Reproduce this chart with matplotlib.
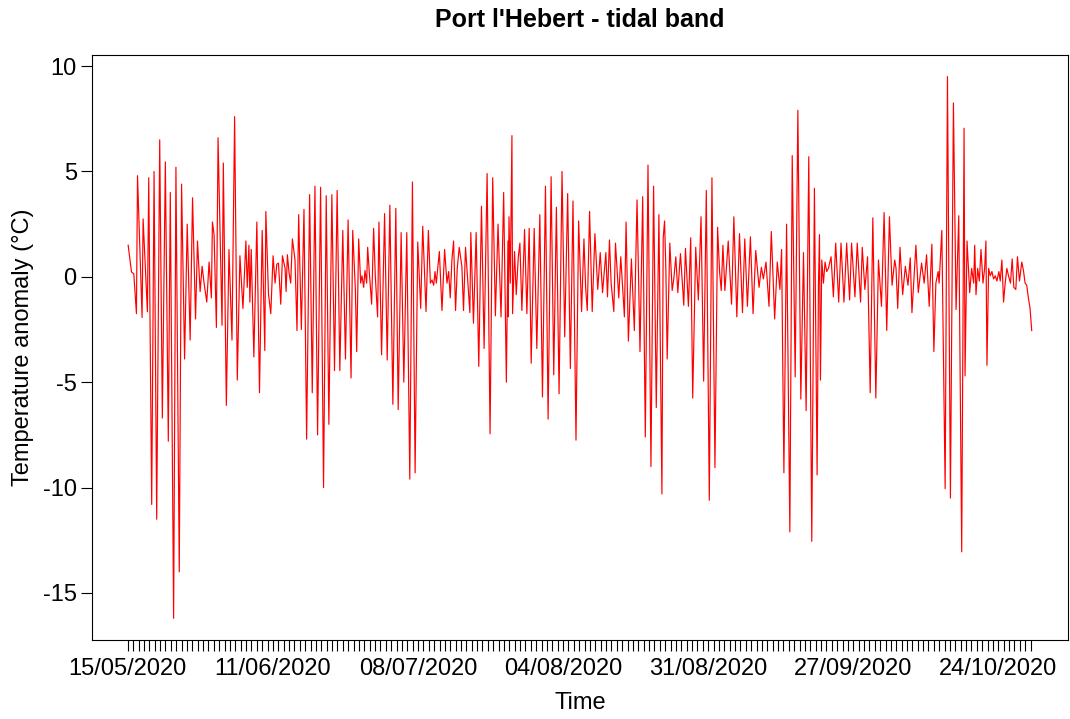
import datetime as dt
import numpy as np
import matplotlib
matplotlib.use("Agg")
import matplotlib.pyplot as plt

plt.rcParams['font.family'] = ['Liberation Sans', 'DejaVu Sans']
plt.rcParams['axes.unicode_minus'] = False

# (days since 15/05/2020, temperature anomaly in degC)
may = [(0.06, 1.5), (0.68, 0.23), (1.11, 0.14), (1.6, -1.75), (1.8, 4.8), (2.65, -1.93),
       (2.84, 2.75), (3.64, -1.66), (3.89, 4.7), (4.44, -10.8), (4.88, 5.0), (5.37, -11.5),
       (5.93, 6.5), (6.42, -6.7), (6.98, 5.45), (7.53, -7.8), (7.9, 4.0), (8.52, -16.2),
       (8.95, 5.2), (9.57, -14.0), (10.0, 4.4), (10.56, -3.9), (11.05, 2.5), (11.6, -3.0),
       (12.04, 3.75), (12.6, -2.0), (12.96, 1.7), (13.45, -0.7), (13.82, 0.5), (14.19, -0.3),
       (14.69, -1.2), (15.12, 0.7), (15.55, -1.0), (15.74, 2.6), (16.05, 2.0), (16.48, -2.4),
       (16.79, 6.6)]

june = [(17.53, -2.3), (17.77, 5.4), (18.33, -6.1), (18.82, 1.3), (19.38, -3.0), (19.87, 7.6),
        (20.37, -4.9), (20.86, 1.0), (21.42, -1.5), (21.97, 1.7), (22.22, -0.5), (22.53, 1.5),
        (22.71, -1.2), (22.96, 1.3), (23.45, -3.8), (24.01, 2.6), (24.5, -5.5), (25.0, 2.2),
        (25.49, -3.5), (25.68, 3.1), (26.17, -0.8), (26.6, -1.75), (27.03, 1.0), (27.4, -0.3),
        (27.72, 0.6), (28.03, 0.65), (28.46, -1.3), (28.77, 1.0), (29.26, 0.4), (29.45, -0.7),
        (29.69, 1.05), (30.0, 0.2), (30.31, -0.3), (30.62, 1.8), (31.11, 0.8), (31.48, -2.55),
        (31.79, 2.95), (32.29, -2.5), (32.78, 3.2), (33.27, -7.7), (33.83, 3.9), (34.32, -5.5),
        (34.82, 4.3), (35.31, -7.5), (35.87, 4.25), (36.42, -10.0), (36.92, 3.85), (37.41, -7.0),
        (37.97, 3.9), (38.46, -4.45), (38.95, 4.1), (39.45, -4.45), (40.0, 2.2), (40.5, -3.9),
        (40.99, 2.7), (41.54, -4.8), (41.85, 2.2), (42.34, -0.6), (42.59, -3.55), (42.96, 1.8),
        (43.33, -0.3), (43.58, 0.05), (43.89, -0.5), (44.13, 0.3), (44.44, -0.3), (44.63, 1.4),
        (44.94, 0.2), (45.37, -1.3), (45.74, 2.3), (46.05, 0.05), (46.48, -1.9), (46.73, 2.6)]

july = [(47.22, -3.7), (47.78, 3.0), (48.27, -3.95), (48.76, 3.4), (49.32, -6.05), (49.87, 3.25),
        (50.31, -6.3), (50.86, 2.1), (51.36, -5.0), (51.91, 2.1), (52.47, -9.6), (52.96, 4.5),
        (53.46, -9.3), (53.95, 1.65), (54.5, -1.5), (54.88, 2.4), (55.49, -1.65), (55.93, 2.2),
        (56.3, -0.3), (56.61, -0.15), (56.92, -0.4), (57.16, 0.25), (57.41, -0.3), (57.97, 1.2),
        (58.46, -1.6), (58.95, 1.3), (59.39, -0.3), (59.7, 0.25), (60.0, -1.0), (60.31, 0.8),
        (60.62, 1.7), (60.99, -1.6), (61.3, 0.4), (61.67, 1.4), (62.16, 0.5), (62.47, -1.6),
        (62.84, 1.4), (63.28, -0.3), (63.65, -1.7), (63.83, 2.1), (64.32, -2.2), (64.82, 2.1),
        (65.31, -4.25), (65.81, 3.35), (66.3, -3.4), (66.86, 4.9), (67.41, -7.45), (67.9, 4.7),
        (68.4, -1.85), (68.89, 2.5), (69.45, -1.9), (69.94, 4.0), (70.44, -5.0), (70.74, 1.7),
        (70.8, -1.9), (70.93, 2.85), (71.17, -0.3), (71.48, 6.7), (71.6, -1.75), (71.97, 1.2),
        (72.28, -0.85), (72.65, 0.9), (72.96, 1.6), (73.33, -1.6), (73.83, 2.25), (74.26, -1.75),
        (74.69, 2.3), (75.06, -4.1), (75.62, 2.3), (76.11, -3.4), (76.67, 2.95), (77.16, -5.7),
        (77.72, 4.3)]

august = [(78.21, -6.75), (78.77, 4.75), (79.26, -4.65), (79.75, 3.3), (80.25, -5.55), (80.8, 5.0),
          (81.3, -2.85), (81.85, 3.95), (82.35, -4.35), (82.84, 3.6), (83.4, -7.75), (83.89, 2.65),
          (84.44, -1.65), (84.88, 1.8), (85.19, -0.5), (85.5, -1.6), (85.93, 3.1), (86.42, -1.65),
          (86.92, 2.05), (87.45, -0.6), (87.91, 1.15), (88.34, -0.75), (88.96, 1.15), (89.26, -0.95),
          (89.63, 1.75), (89.94, -0.3), (90.44, -1.65), (90.75, 1.6), (91.36, -1.0), (91.73, 0.95),
          (92.41, -1.9), (92.72, 2.6), (93.15, -3.05), (93.71, 0.85), (94.26, -2.55), (94.76, 3.65),
          (95.31, -3.55), (95.81, 3.8), (96.3, -7.6), (96.8, 5.3), (97.35, -9.0), (97.84, 4.3),
          (98.34, -6.2), (98.83, 2.95), (99.39, -10.3), (99.63, 1.85), (99.88, 2.65), (100.12, 0.4),
          (100.37, -3.9), (100.86, 1.6), (101.3, -0.65), (101.6, -0.1), (101.98, 0.95), (102.35, -0.75),
          (102.84, 1.1), (103.46, -1.35), (103.77, 1.35), (104.32, -1.4), (104.75, 1.85), (105.12, -5.75),
          (105.68, 1.4), (106.17, -1.1), (106.67, 2.85), (107.16, -4.95), (107.65, 4.1), (108.21, -10.6),
          (108.7, 4.7)]

september = [(109.26, -9.05), (109.75, 2.35), (110.12, 0.25), (110.43, -0.65), (110.74, 1.5),
             (111.11, -0.65), (111.73, 1.7), (112.35, -1.3), (112.78, 2.85), (113.33, -1.9),
             (113.83, 2.05), (114.07, 0.4), (114.38, -1.7), (114.81, 1.8), (115.3, -1.4),
             (115.86, 1.9), (116.35, -1.75), (116.85, 1.25), (117.47, -0.5), (117.9, 0.45),
             (118.27, -0.1), (118.76, 0.7), (119.32, -1.4), (119.75, 2.15), (120.37, -2.0),
             (120.86, 0.7), (121.35, -0.6), (121.66, 1.3), (122.09, -9.3), (122.59, 2.5),
             (123.2, -12.1), (123.64, 5.75), (124.19, -4.75), (124.69, 7.9), (125.24, -5.8),
             (125.74, 1.15), (126.23, -6.35), (126.72, 5.7), (127.28, -12.55), (127.77, 4.2),
             (128.27, -9.4), (128.52, -0.4), (128.71, 2.0), (128.89, -4.9), (129.14, 0.8),
             (129.45, -0.3), (129.75, 0.7), (130.06, 0.25), (130.37, 0.4), (130.87, 0.95),
             (131.3, -0.95), (131.73, 1.6), (132.29, -1.2), (132.72, 1.6), (133.27, -1.2),
             (133.77, 1.6), (134.32, -1.1), (134.69, 1.6), (135.31, -0.95), (135.74, 1.6),
             (136.36, -1.2), (136.67, 1.4), (137.16, -0.6), (137.66, 0.95), (138.15, -5.5),
             (138.64, 2.8)]

october = [(139.2, -5.75), (139.69, 0.8), (140.25, -1.4), (140.74, 3.05), (141.23, -2.55),
           (141.73, 2.85), (142.22, -0.4), (142.72, 0.8), (142.96, 0.4), (143.27, -1.5),
           (143.7, 1.4), (144.19, -0.85), (144.69, 0.5), (145.18, -0.4), (145.61, 0.9),
           (145.92, -1.7), (146.66, 1.5), (147.1, -0.75), (147.71, 0.65), (148.2, -0.3),
           (148.64, 1.05), (149.13, -1.4), (149.63, 1.55), (150.0, -3.55), (150.37, -0.3),
           (150.8, 0.25), (150.98, -0.3), (151.48, 2.2), (152.1, -10.05), (152.53, 9.5),
           (153.08, -10.5), (153.64, 8.25), (154.13, -1.55), (154.63, 2.9), (155.18, -13.05),
           (155.62, 7.05), (155.8, -4.7), (156.17, 1.7), (156.67, -0.75), (157.03, 0.4),
           (157.41, -0.3), (157.6, 1.5), (157.84, -0.85), (158.15, 0.4), (158.46, -0.2),
           (158.77, 1.3), (159.14, -0.3), (159.45, 0.4), (159.69, 1.7), (159.88, -4.2),
           (160.19, 0.4), (160.5, 0.05), (160.8, 0.25), (161.11, -0.1), (161.42, 0.05),
           (161.73, -0.2), (162.1, 0.25), (162.35, -0.2), (162.66, 0.8), (162.97, -1.2),
           (163.27, -0.3), (163.58, 0.4), (163.89, 0.05), (164.26, -0.3), (164.57, 0.85),
           (164.88, -0.5), (165.25, -0.6), (165.56, 0.95), (165.93, -0.2), (166.36, 0.7),
           (166.67, 0.3), (166.98, -0.3), (167.28, -0.4), (167.59, -1.0), (167.9, -1.5),
           (168.21, -2.55)]

start_date = dt.date(2020, 5, 15)
n_tick_days = 169        # one tick per day
label_every = 27         # R only kept every 27th label

series = np.array(may + june + july + august + september + october)
t, anom = series[:, 0], series[:, 1]

fig = plt.figure(figsize=(10.7, 7.19), dpi=100)
ax = fig.add_axes([0.086, 0.11, 0.912, 0.8136])

ax.plot(t, anom, color='red', lw=0.85)
ax.margins(x=0.04, y=0.04)

ticks = np.arange(n_tick_days)
ax.set_xticks(ticks)
labels = [(start_date + dt.timedelta(days=int(d))).strftime('%d/%m/%Y') if d % label_every == 0 else ''
          for d in ticks]
ax.set_xticklabels(labels)
ax.set_yticks([-15, -10, -5, 0, 5, 10])

ax.tick_params(axis='both', direction='out', length=8, width=0.8, labelsize=17, pad=5)
ax.tick_params(axis='y', pad=3)
for s in ax.spines.values():
    s.set_linewidth(0.8)

ax.set_xlabel('Time', fontsize=17, labelpad=9)
ax.set_ylabel('Temperature anomaly (°C)', fontsize=17, labelpad=6)
ax.set_title("Port l'Hebert - tidal band", fontsize=18, fontweight='bold', pad=20)

fig.savefig('out.png', dpi=100)
